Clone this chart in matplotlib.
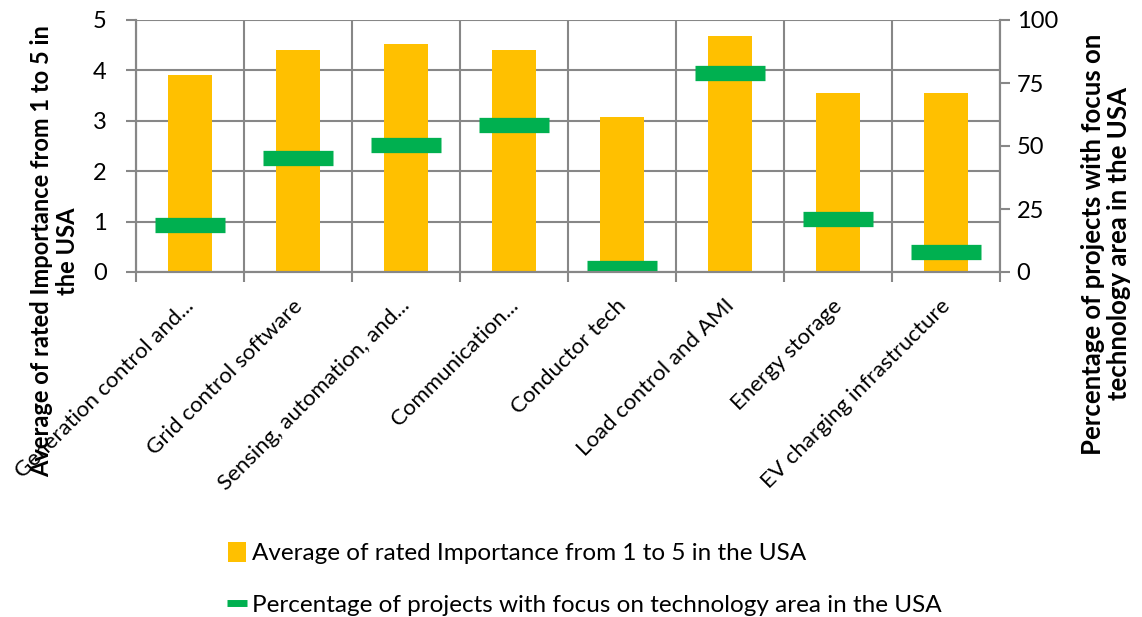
import numpy as np
import matplotlib
matplotlib.use("Agg")
from matplotlib import pyplot as plt
from matplotlib.patches import Patch
from matplotlib.lines import Line2D
from matplotlib.transforms import ScaledTranslation

plt.rcParams['font.family'] = ['Lato', 'DejaVu Sans']

categories = ["Generation control and...", "Grid control software", "Sensing, automation, and...",
              "Communication...", "Conductor tech", "Load control and AMI", "Energy storage",
              "EV charging infrastructure"]
importance = [3.9, 4.4, 4.53, 4.4, 3.07, 4.68, 3.55, 3.55]
pct_projects = [18.8, 45.2, 50.5, 58.3, 1.6, 78.8, 21.2, 8.1]

bar_label = "Average of rated Importance from 1 to 5 in the USA"
pct_label = "Percentage of projects with focus on technology area in the USA"

GRID = "#878787"
GOLD = "#FFC000"
GREEN = "#00B050"

fig = plt.figure(figsize=(11.42, 6.17), dpi=100)
ax = fig.add_axes([136/1142, 1-272/617, 864/1142, 252/617])
ax2 = ax.twinx()

x = np.arange(len(categories))
ax.bar(x, importance, width=0.4, color=GOLD, zorder=2)
ax2.plot(x, pct_projects, linestyle="none", marker="_", markersize=50, markeredgewidth=11,
         color=GREEN)

ax.set_xlim(-0.5, len(categories) - 0.5)
ax.set_ylim(0, 5)
ax2.set_ylim(0, 100)
ax.set_yticks(range(6))
ax2.set_yticks([0, 25, 50, 75, 100])

ax.set_xticks(x)
ax.set_xticklabels(categories, rotation=45, ha="right", va="top", rotation_mode="anchor", fontsize=16)
ax.set_xticks(np.arange(-0.5, len(categories)), minor=True)
ax.tick_params(axis="x", which="major", length=0, pad=17)
ax.tick_params(axis="x", which="minor", length=7, width=1.5, color=GRID)
ax.tick_params(axis="y", length=7, width=1.5, color=GRID, labelsize=17, pad=14)
ax2.tick_params(axis="y", length=7, width=1.5, color=GRID, labelsize=17, pad=5)
# small left nudge of the slanted labels (after tick_params, which resets transforms)
shift = ScaledTranslation(-6/100, 0, fig.dpi_scale_trans)
for lbl in ax.get_xticklabels():
    lbl.set_transform(lbl.get_transform() + shift)

ax.set_axisbelow(True)
ax.grid(True, axis="y", color=GRID, linewidth=1.5)
ax.grid(True, axis="x", which="minor", color=GRID, linewidth=1.5)
for a in (ax, ax2):
    for s in a.spines.values():
        s.set_color(GRID)
        s.set_linewidth(1.5)
    a.spines["top"].set_visible(False)

fig.text(55/1142, 1-251/617, "Average of rated Importance from 1 to 5 in\nthe USA", rotation=90,
         ha="center", va="center", multialignment="center", fontsize=17, fontweight="bold",
         linespacing=1.15)
fig.text(1106/1142, 1-244/617, "Percentage of projects with focus on\ntechnology area in the USA", rotation=90,
         ha="center", va="center", multialignment="center", fontsize=18.5, fontweight="bold",
         linespacing=1.1)

handles = [Patch(facecolor=GOLD, edgecolor="none"),
           Line2D([], [], linestyle="none", marker="_", markersize=15, markeredgewidth=5, color=GREEN)]
fig.legend(handles, [bar_label, pct_label], loc="upper left", bbox_to_anchor=(206/1142, 1-520/617),
           frameon=False, fontsize=17.5, handlelength=0.75, handleheight=0.9, handletextpad=0.25,
           labelspacing=1.2)

fig.savefig("out.png", dpi=100)
